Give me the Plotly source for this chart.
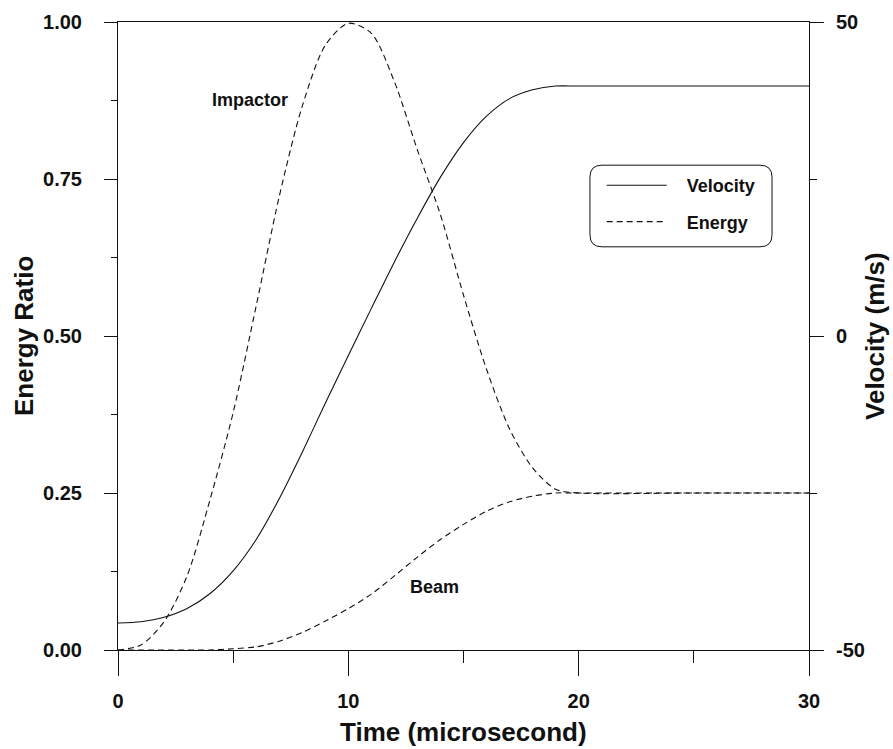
import plotly.graph_objects as go

# ---- data ----
time_v = [0, 1, 2, 3, 4, 5, 6, 7, 8, 9, 10, 11, 12, 13, 14, 15, 16, 17, 18, 19, 20, 25, 30]
velocity = [-45.7, -45.5, -44.8, -43.4, -41.0, -37.4, -32.4, -25.9, -18.5, -10.7, -3.1, 4.4, 11.8,
            18.8, 25.3, 30.8, 35.0, 37.8, 39.2, 39.8, 39.8, 39.8, 39.8]

time_e = [0, 1, 2, 3, 4, 5, 6, 7, 8, 9, 10, 11, 12, 13, 14, 15, 16, 17, 18, 19, 20, 25, 30]
impactor = [0.0, 0.008, 0.045, 0.118, 0.24, 0.378, 0.548, 0.722, 0.866, 0.963, 0.998, 0.982,
            0.905, 0.796, 0.693, 0.565, 0.447, 0.352, 0.29, 0.256, 0.25, 0.25, 0.25]

time_b = [0, 1, 2, 3, 4, 5, 6, 7, 8, 9, 10, 11, 12, 13, 14, 15, 16, 17, 18, 19, 20, 25, 30]
beam = [0.0, 0.0, 0.0, 0.0, 0.0, 0.002, 0.005, 0.014, 0.028, 0.046, 0.066, 0.089, 0.118, 0.148,
        0.176, 0.2, 0.221, 0.236, 0.245, 0.25, 0.25, 0.25, 0.25]

x_ticks = [0, 10, 20, 30]
y_ticks = [0, 0.25, 0.5, 0.75, 1.0]
y2_ticks = [-50, 0, 50]
y2_labels = ["-50", "0", "50"]

FONT = "Liberation Sans"
INK = "#111111"
DASH = "6px,4px"
NB = "\u00a0\u00a0\u00a0"

fig = go.Figure()
fig.add_trace(go.Scatter(x=time_v, y=velocity, yaxis="y2", name=NB + "Velocity", mode="lines",
                         legendgroup="v",
                         line=dict(color=INK, width=1.1, shape="spline", smoothing=0.8)))
fig.add_trace(go.Scatter(x=time_e, y=impactor, name=NB + "Energy", mode="lines", legendgroup="e",
                         line=dict(color=INK, width=1.1, dash=DASH, shape="spline", smoothing=0.8)))
fig.add_trace(go.Scatter(x=time_b, y=beam, name="Beam", mode="lines", legendgroup="e",
                         showlegend=False,
                         line=dict(color=INK, width=1.1, dash=DASH, shape="spline", smoothing=0.8)))

tickfont = dict(family=FONT, size=20, color=INK, weight=700)

fig.update_layout(
    width=893, height=749,
    margin=dict(l=118, r=84, t=22, b=99),
    paper_bgcolor="white", plot_bgcolor="white",
    font=dict(family=FONT, color=INK),
    xaxis=dict(range=[0, 30], tickvals=x_ticks, ticks="outside", ticklen=25, tickwidth=1,
               tickcolor=INK, showline=True, linecolor=INK, linewidth=1, mirror=True,
               showgrid=False, zeroline=False, tickfont=tickfont, ticklabelstandoff=8,
               minor=dict(dtick=5, ticks="outside", ticklen=12, tickcolor=INK, showgrid=False)),
    yaxis=dict(range=[0, 1], tickvals=y_ticks, tickformat=".2f", ticks="outside", ticklen=13,
               tickcolor=INK, showline=True, linecolor=INK, linewidth=1, showgrid=False,
               zeroline=False, tickfont=tickfont, ticklabelstandoff=18,
               minor=dict(dtick=0.125, ticks="outside", ticklen=6, tickcolor=INK, showgrid=False)),
    yaxis2=dict(range=[-50, 50], tickvals=y2_ticks, ticktext=y2_labels, overlaying="y",
                side="right", ticks="outside",
                ticklen=14, tickcolor=INK, showline=True, linecolor=INK, linewidth=1,
                showgrid=False, zeroline=False, tickfont=tickfont, ticklabelstandoff=8,
                minor=dict(dtick=25, ticks="outside", ticklen=7, tickcolor=INK, showgrid=False)),
    legend=dict(x=0.70, y=0.769, xanchor="left", yanchor="top", bgcolor="rgba(0,0,0,0)",
                borderwidth=0, itemwidth=60, tracegroupgap=10,
                font=dict(family=FONT, size=18, color=INK, weight=700)),
    showlegend=True,
)

# rounded legend frame (paper coords)
x0, x1, y0, y1 = 0.683, 0.9465, 0.642, 0.772
rx, ry = 0.0174, 0.0191
path = (f"M{x0+rx},{y1} L{x1-rx},{y1} Q{x1},{y1} {x1},{y1-ry} L{x1},{y0+ry} Q{x1},{y0} {x1-rx},{y0} "
        f"L{x0+rx},{y0} Q{x0},{y0} {x0},{y0+ry} L{x0},{y1-ry} Q{x0},{y1} {x0+rx},{y1} Z")
fig.add_shape(type="path", path=path, xref="paper", yref="paper",
              line=dict(color=INK, width=1), fillcolor="rgba(0,0,0,0)")

lab = dict(family=FONT, size=18, color=INK, weight=700)
title_font = dict(family=FONT, size=26, color=INK, weight=700)
fig.add_annotation(x=5.73, y=0.876, xref="x", yref="y", text="Impactor", showarrow=False, font=lab)
fig.add_annotation(x=13.76, y=0.10, xref="x", yref="y", text="Beam", showarrow=False, font=lab)
fig.add_annotation(x=0.5, y=-0.1306, xref="paper", yref="paper", text="Time (microsecond)",
                   showarrow=False, font=title_font, xanchor="center", yanchor="middle")
fig.add_annotation(x=-0.136, y=0.5, xref="paper", yref="paper", text="Energy Ratio",
                   showarrow=False, font=title_font, textangle=-90, xanchor="center", yanchor="middle")
fig.add_annotation(x=1.0955, y=0.5, xref="paper", yref="paper", text="Velocity (m/s)",
                   showarrow=False, font=title_font, textangle=-90, xanchor="center", yanchor="middle")

fig.write_html("out.html")
